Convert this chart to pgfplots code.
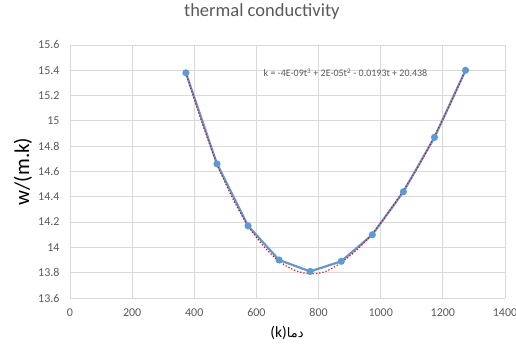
\documentclass[border=0pt]{standalone}
\usepackage{pgfplots}
\pgfplotsset{compat=1.18}
\usepackage{fontspec}
\setmainfont{Carlito}
\TeXXeTstate=1
\newfontfamily\arabicfont[Script=Arabic]{DejaVu Sans}
\definecolor{txtgray}{HTML}{595959}
\definecolor{gridgray}{HTML}{D9D9D9}
\definecolor{xlblue}{HTML}{5B9BD5}
\begin{document}
\begin{tikzpicture}
\begin{axis}[
  scale only axis,
  width=435pt, height=253pt,
  xmin=0, xmax=1400, ymin=13.6, ymax=15.6,
  xtick={0,200,...,1400},
  ytick={13.6,13.8,...,15.6},
  yticklabels={13.6,13.8,14,14.2,14.4,14.6,14.8,15,15.2,15.4,15.6},
  /pgf/number format/assume math mode=true,
  /pgf/number format/1000 sep={},
  grid=major,
  major grid style={gridgray, line width=0.8pt},
  axis line style={draw=none},
  axis x line*=bottom,
  x axis line style={draw=gridgray, line width=0.8pt},
  axis y line*=left,
  y axis line style={draw=none},
  tick style={draw=none},
  ticklabel style={font=\fontsize{12}{14}\selectfont, text=txtgray},
  xticklabel style={yshift=-7pt},
  yticklabel style={xshift=-7pt},
  title={\fontsize{18.5}{20}\selectfont\color{txtgray} thermal conductivity},
  title style={at={(axis description cs:0.441,1.107)}, anchor=center},
  ylabel={\fontsize{21}{23}\selectfont w/(m.k)},
  ylabel style={at={(axis description cs:-0.108,0.5)}, anchor=center},
  xlabel={\fontsize{15.5}{17}\selectfont (k)\arabicfont\fontsize{13}{15}\selectfont\beginR دما\endR},
  xlabel style={at={(axis description cs:0.499,-0.138)}, anchor=center},
]
\addplot[xlblue, line width=2.2pt, mark=*, mark size=2.4pt, mark options={fill=xlblue, draw=xlblue}] coordinates {
(373,15.38) (473,14.66) (573,14.17) (673,13.90) (773,13.81)
(873,13.89) (973,14.10) (1073,14.44) (1173,14.87) (1273,15.40)
};
\addplot[red, line width=1.2pt, dotted, smooth] coordinates {
(373,15.38) (423,15.00) (473,14.66) (523,14.39) (573,14.17) (623,14.01)
(673,13.89) (723,13.82) (773,13.79) (823,13.81) (873,13.88) (923,13.98)
(973,14.11) (1023,14.27) (1073,14.45) (1123,14.65) (1173,14.88) (1223,15.13) (1273,15.40)
};
\node[anchor=west, text=txtgray, font=\fontsize{10}{11}\selectfont] at (axis cs:612,15.38) {k = -4E-09t\textsuperscript{3} + 2E-05t\textsuperscript{2} - 0.0193t + 20.438};
\end{axis}
\pgfresetboundingbox
\path[use as bounding box] (-70pt,-49pt) rectangle (446pt,298pt);
\end{tikzpicture}
\end{document}
